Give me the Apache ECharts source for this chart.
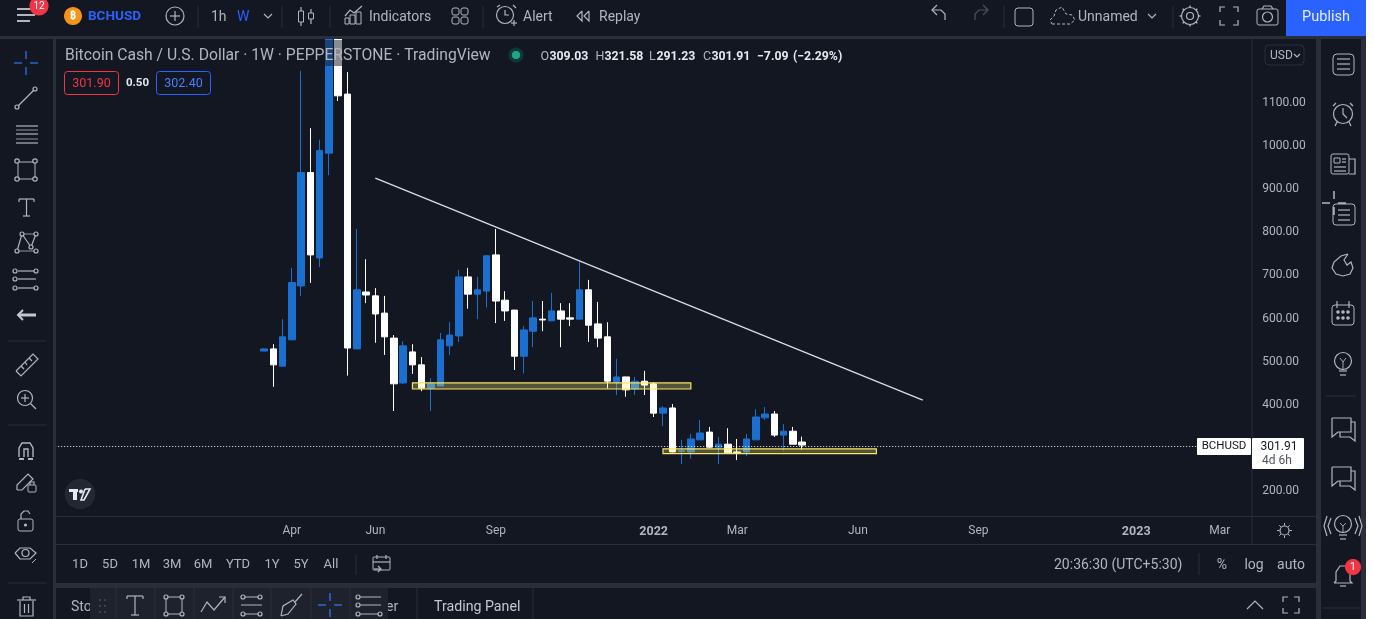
<!DOCTYPE html>
<html><head><meta charset="utf-8">
<style>html,body{margin:0;padding:0;background:#fff;overflow:hidden}#c{width:1374px;height:619px}</style>
<script src="https://cdn.jsdelivr.net/npm/echarts@6/dist/echarts.min.js"></script>
</head><body><div id="c"></div>
<script>
// ---------- data ----------
const opens = [520,525,485,546,671,934,736,979,1340,1116,525,657,648,608,550,446,518,488,434,439,532,555,692,652,659,743,638,615,508,566,594,590,613,597,594,662,583,553,448,460,432,450,444,376,388,287,286,314,332,297,304,286,286,314,365,374,325,334,309.03];
const closes= [525,488,553,679,934,743,985,1340,1112,527,662,650,606,553,444,532,488,434,444,546,557,692,652,662,741,636,613,508,569,597,592,613,594,594,662,580,550,450,460,430,450,441,376,388,286,289,316,330,297,304,284,284,316,367,374,325,334,304,301.91];
const lows  = [520,437,485,546,648,678,715,928,1100,463,525,631,539,511,381,444,467,427,381,439,511,541,618,594,621,585,590,476,468,529,566,590,529,578,594,541,529,433,418,414,418,418,367,346,285,258,270,314,295,258,283,267,276,314,360,321,289,304,291.23];
const highs = [527,536,594,713,1170,1037,1010,1500,1640,1167,803,733,666,648,557,543,536,506,457,562,587,708,713,692,740,803,659,615,578,636,636,655,631,631,729,685,634,587,502,460,460,474,448,392,397,314,328,360,344,321,341,316,328,385,390,381,351,344,321.58];
const priceTicks = [200,300,400,500,600,700,800,900,1000,1100];
const timeTicks = {'2021-04-05':'Apr','2021-06-07':'Jun','2021-09-06':'Sep','2022-01-03':'2022','2022-03-07':'Mar','2022-06-06':'Jun','2022-09-05':'Sep','2023-01-02':'2023','2023-03-06':'Mar'};
const lastPriceLevel = 299;
const leadingWeeks = 22, totalWeeks = 129;
const trendLine = [[34,921],[93,406]];
const zones = [[[38,446],[68,432]],[[65,293],[88,282]]];

const weeks = [];
for (let i=0;i<totalWeeks;i++){ weeks.push(new Date(Date.UTC(2020,9,12+7*i)).toISOString().slice(0,10)); }
const blank = Array.from({length:leadingWeeks},()=>['-','-','-','-']);
const candles = blank.concat(opens.map((o,i)=>[o,closes[i],lows[i],highs[i]]));

// ---------- screen furniture helpers ----------
const FF='Roboto, "Noto Sans", sans-serif';
const BG='#131722', GAP='#2a2e39', I='#b2b5be', TXT='#b2b5be', BLUE='#2962ff';
const G=[]; let zz=100;
const R=(x,y,w,h,fill,o={})=>G.push({type:'rect',silent:true,z:zz,shape:{x,y,width:w,height:h,r:o.r||0},style:{fill:fill||'transparent',stroke:o.s||null,lineWidth:o.w||1}});
const L=(pts,c=I,w=1.2,dash)=>G.push({type:'polyline',silent:true,z:zz,shape:{points:pts},style:{stroke:c,fill:null,lineWidth:w,lineDash:dash||null}});
const C=(x,y,r,s=I,f=null,w=1.2,dash)=>G.push({type:'circle',silent:true,z:zz,shape:{cx:x,cy:y,r},style:{stroke:s,fill:f||'transparent',lineWidth:w,lineDash:dash||null}});
const T=(t,x,y,o={})=>G.push({type:'text',silent:true,z:zz,x,y:y+1,style:{text:t,fill:o.c||TXT,font:`${o.b?'bold ':''}${o.s||14}px ${FF}`,align:o.a||'left',verticalAlign:'middle'}});
const sep=(x,y1,y2)=>L([[x,y1],[x,y2]],GAP,1);
const hsep=(x1,x2,y)=>L([[x1,y],[x2,y]],GAP,1);
const cross=(x,y,c=I)=>{L([[x-12,y],[x-4,y]],c);L([[x+4,y],[x+12,y]],c);L([[x,y-12],[x,y-4]],c);L([[x,y+4],[x,y+12]],c);};
const fsIcon=(x,y,r=9)=>{[[-1,-1],[1,-1],[-1,1],[1,1]].forEach(([a,b])=>L([[x+a*r,y+b*(r-5)],[x+a*r,y+b*r],[x+a*(r-5),y+b*r]]));};

// panels and gaps
R(0,0,1366,36,BG);
R(0,36,1366,3,GAP); R(53,39,3,580,GAP); R(1316,39,5,580,GAP); R(56,583,1260,5,GAP); R(1361,0,5,619,GAP);
R(1286,0,80,36,BLUE); R(1366,0,8,619,'#ffffff');
L([[1252,39],[1252,544]],GAP,1); hsep(56,1316,516.5); hsep(56,1316,544.5);

// veil behind the legend text
R(56,40,436,26,'rgba(19,23,34,0.5)');

// top bar
L([[17,9],[35,9]],I,2);L([[17,15],[35,15]],I,2);L([[17,21],[30,21]],I,2);
C(39,6,9,'#f23645','#f23645');T('12',39,5,{c:'#fff',s:10,a:'center'});
C(73,16,8.5,'#f7931a','#f7931a');T('₿',73,15,{c:'#fff',s:11,a:'center',b:1});
T('BCHUSD',88,15.5,{c:BLUE,s:13.5,b:1});
C(175,16,9);L([[170,16],[180,16]]);L([[175,11],[175,21]]);
sep(198,6,28);T('1h',211,16);T('W',237,16,{c:BLUE});L([[264,14],[268,18],[272,14]]);sep(282,6,28);
L([[301,7],[301,26]]);R(298.5,11,5,11,BG,{s:I});L([[311,9],[311,24]]);R(308.5,13,5,6,BG,{s:I});sep(330,6,28);
R(345,18,4,6,null,{s:I});R(350,15,5,9,null,{s:I});R(356,12,5,12,null,{s:I});L([[345,16],[350,10],[354,13],[362,6]]);
T('Indicators',369,16);
[[452,8],[461,8],[452,17],[461,17]].forEach(p=>R(p[0],p[1],7,7,null,{s:I,r:2}));sep(483,6,28);
C(505,15,8.5);L([[505,10],[505,15],[509,15]]);L([[497,7],[500,5]]);L([[513,5],[516,8]]);L([[511,23],[517,23]]);L([[514,20],[514,26]]);
T('Alert',523,16);
L([[582,11],[577,16],[582,21],[582,11]]);L([[589,11],[584,16],[589,21],[589,11]]);T('Replay',599,16);
L([[937,5],[932,10],[937,15]]);L([[932,10],[941,10],[945,14],[945,20]]);
L([[983,5],[988,10],[983,15]],'#50535e');L([[988,10],[979,10],[975,14],[975,20]],'#50535e');sep(1004,6,28);
R(1015,8,18,18,null,{s:I,r:3});
L([[1052,24],[1070,24],[1075,20],[1072,15],[1066,14],[1062,7],[1056,10],[1054,16],[1050,20],[1052,24]],I,1,[3,2]);
T('Unnamed',1078,16);L([[1148,14],[1152,18],[1156,14]]);sep(1173,6,28);
C(1190,16,3.5);C(1190,16,8.5);[[0,-1],[0,1],[1,0],[-1,0],[.7,.7],[-.7,.7],[.7,-.7],[-.7,-.7]].forEach(([a,b])=>L([[1190+a*8.5,16+b*8.5],[1190+a*10.5,16+b*10.5]],I,1.4));
fsIcon(1229,16,9);
R(1257,9,21,16,null,{s:I,r:2});C(1267.5,17,5);L([[1262,9],[1264,6],[1271,6],[1273,9]]);
T('Publish',1326,16,{c:'#e8eeff',s:14.5,a:'center'});

// legend
T('Bitcoin Cash / U.S. Dollar · 1W · PEPPERSTONE · TradingView',65,55,{s:15.7});
C(516,55,7,'#0c3a3a','#0c3a3a');C(516,55,3.5,'#1ba784','#1ba784');
[['O',540.5],['H',595.5],['L',649],['C',703]].forEach(a=>T(a[0],a[1],56,{s:12.5}));
[['309.03',549.5],['321.58',604.5],['291.23',656.5],['301.91',711.5],['−7.09',757],['(−2.29%)',793]].forEach(a=>T(a[0],a[1],56,{s:12.3,c:'#e6e8ee',b:1}));
R(64.5,71.5,54,23,BG,{s:'#f23645',r:3});T('301.90',91.5,83,{c:'#f23645',s:12.5,a:'center'});
T('0.50',137.5,82.5,{c:'#e6e8ee',s:11.5,a:'center',b:1});
R(156.5,71.5,54,23,BG,{s:BLUE,r:3});T('302.40',183.5,83,{c:'#4c7dff',s:12.5,a:'center'});
R(1265,45,39,20,BG,{s:GAP,r:4});T('USD',1270,54.5,{s:12});L([[1294,54],[1297,57],[1300,54]]);

// TV watermark
C(80,494,15,'#2a2e39','#232734',0.5);
R(69,489,9,3,'#e6e8ee');R(73,489,4,11,'#e6e8ee');C(81,491.5,1.8,'#e6e8ee','#e6e8ee',0.5);
L([[85,489],[81,500],[84,500],[90,489],[85,489]],'#e6e8ee',1.6);

// left tools
cross(26,63,'#2f7bff');
L([[18,106],[34,90]]);C(17,107,2);C(35,89,2);
[126,134,143].forEach(y=>{L([[16,y],[38,y]]);});L([[16,130],[38,130]],I,.8);L([[16,139],[38,139]],I,.8);
R(18,162,17,17,null,{s:I});[[17,161],[35,161],[17,179],[35,179]].forEach(p=>C(p[0],p[1],2.2,I,BG));
L([[19,199],[19,202]]);L([[19,199],[34,199]]);L([[34,199],[34,202]]);L([[26.5,199],[26.5,216]]);L([[23,216],[30,216]]);
L([[17,251],[22,234],[31,247],[36,234]]);L([[17,251],[36,251]],I,.8);L([[22,234],[36,234]],I,.8);[[17,251],[22,234],[31,247],[36,234],[36,251]].forEach(p=>C(p[0],p[1],2,I,BG));
[271,279,288].forEach(y=>L([[18,y],[36,y]]));[[15,271],[15,279],[15,288],[36,271],[36,288]].forEach(p=>C(p[0],p[1],2,I,BG));
L([[18,315],[36,315]],'#c4c7cf',3);L([[23,310],[18,315],[23,320]],'#c4c7cf',2);
hsep(8,46,341);
L([[16,371],[33,354],[38,359],[21,376],[16,371]]);[[21,366,24,369],[25,362,27,365],[29,358,32,361]].forEach(a=>L([[a[0],a[1]],[a[2],a[3]]]));
C(25,398,7.5);L([[30.5,403.5],[36,409]]);L([[21,398],[29,398]]);L([[25,394],[25,402]]);
hsep(8,46,425);
L([[19,457],[19,448],[22,443],[30,443],[33,448],[33,457]],I,1.4);L([[24,457],[24,449],[28,449],[28,457]],I,1.4);L([[19,459],[24,459]],I,2);L([[28,459],[33,459]],I,2);
L([[17,490],[17,485],[28,474],[33,479],[22,490],[17,490]]);R(28,485,8,7,null,{s:I,r:1});L([[30,485],[30,482],[34,482],[34,485]]);
R(18,519,15,12,null,{s:I,r:2});L([[21,519],[21,514],[24,511],[28,511],[30,514]]);C(25.5,525,1,I,I);
L([[15,553],[20,548],[30,548],[36,553],[30,559],[20,559],[15,553]]);C(25.5,553,3.5);L([[32,563],[36,559]],I,1);
hsep(8,46,583);
L([[20,601],[20,616],[33,616],[33,601]]);L([[17,600],[36,600]]);L([[23,600],[23,597],[30,597],[30,600]]);L([[24.5,604],[24.5,613]]);L([[28.5,604],[28.5,613]]);

// right tools
const X=1343;
R(X-10,54,21,21,null,{s:I,r:4});[59,64,69].forEach(y=>L([[X-6,y],[X+7,y]]));
C(X,114,9.5);L([[X,108],[X,114],[X+4,118]]);L([[X-10,106],[X-7,103]]);L([[X+7,103],[X+10,106]]);L([[X-6,122],[X-8,126]]);L([[X+6,122],[X+8,126]]);
R(X-12,154,18,20,null,{s:I,r:2});L([[X+6,159],[X+12,159],[X+12,174],[X+6,174]]);R(X-9,158,6,5,null,{s:I});[[167],[171]].forEach(y=>L([[X-9,y[0]],[X+3,y[0]]]));L([[X-1,159],[X+3,159]]);L([[X-1,162],[X+3,162]]);
R(X-10,204,22,21,null,{s:I,r:3});[210,215,220].forEach(y=>L([[X-5,y],[X+7,y]]));cross(X-9,203,'#dde');
L([[X+5,254],[X-2,256],[X-9,262],[X-11,268],[X-7,274],[X,276],[X+7,274],[X+10,268],[X+8,262],[X+4,265],[X+1,260],[X+5,254]]);
R(X-11,305,22,20,null,{s:I,r:3});L([[X-6,301],[X-6,308]]);L([[X+6,301],[X+6,308]]);[[-5,312],[0,312],[5,312],[-5,318],[0,318],[5,318]].forEach(p=>C(X+p[0],p[1],1.2,I,I));
C(X,361,8.5);L([[X-4,371],[X+4,371]]);L([[X-3,375],[X+3,375]]);L([[X-3,358],[X,362],[X+3,358]],I,.9);L([[X,362],[X,369]],I,.9);
hsep(1326,1356,396);
L([[X-11,418],[X+8,418],[X+8,432],[X-5,432],[X-11,437],[X-11,418]]);L([[X+8,422],[X+12,422],[X+12,441],[X+7,437],[X-3,437],[X-3,432]]);
L([[X-11,467],[X+8,467],[X+8,481],[X-5,481],[X-11,486],[X-11,467]]);L([[X+8,471],[X+12,471],[X+12,490],[X+7,486],[X-3,486],[X-3,481]]);
C(X,524,8.5);L([[X-4,535],[X+4,535]]);L([[X-3,539],[X+3,539]]);L([[X-3,523],[X,526],[X+3,523]],I,.9);L([[X,526],[X,533]],I,.9);
L([[X-12,518],[X-15,526],[X-12,534]]);L([[X-16,516],[X-19,526],[X-16,536]]);L([[X+12,518],[X+15,526],[X+12,534]]);L([[X+16,516],[X+19,526],[X+16,536]]);
L([[X-9,583],[X-7,581],[X-7,572],[X-3,566],[X+3,566],[X+7,572],[X+7,581],[X+9,583],[X-9,583]]);L([[X-3,586],[X+3,586]]);
C(1353,567,7.5,'#f23645','#f23645');T('1',1353,566,{c:'#fff',s:10.5,a:'center'});
hsep(1322,1360,608);

// bottom range bar
[['1D',80],['5D',110],['1M',141],['3M',172],['6M',203],['YTD',238],['1Y',272],['5Y',301],['All',331]].forEach(a=>T(a[0],a[1],564,{s:13,a:'center'}));
sep(356,555,575);
R(373,557,17,13,null,{s:I,r:1});L([[373,562],[390,562]]);L([[377,555],[377,559]]);L([[386,555],[386,559]]);L([[374,569],[381,569]]);L([[378,566],[381,569],[378,572]]);
T('20:36:30 (UTC+5:30)',1054,564,{s:14});sep(1199,553,575);
T('%',1222,564,{s:14,a:'center'});T('log',1254,564,{s:14,a:'center'});T('auto',1291,564,{s:14,a:'center'});
C(1284.5,530.5,4.5);[[0,-1],[0,1],[1,0],[-1,0],[.7,.7],[-.7,.7],[.7,-.7],[-.7,-.7]].forEach(([a,b])=>L([[1284.5+a*5,530.5+b*5],[1284.5+a*7.5,530.5+b*7.5]],I,1));

// bottom tab strip
T('Sto',71,606,{s:14});T('er',386,606,{s:14});
sep(417,588,619);T('Trading Panel',434,606,{s:14.2,c:'#c4c7cf'});sep(533,588,619);
R(90,588,298,31,'#1e222d');
[[100,600],[105,600],[100,606],[105,606],[100,612],[105,612]].forEach(p=>C(p[0],p[1],.7,'#50535e','#50535e',.5));
[[116],[155],[194],[233],[271],[311],[350]].forEach(a=>sep(a[0],588,619));
L([[127,596],[127,599]]);L([[127,596],[143,596]]);L([[143,596],[143,599]]);L([[135,596],[135,615]]);L([[131,615],[139,615]]);
R(166,597,16,17,null,{s:I});[[166,597],[182,597],[166,614],[182,614]].forEach(p=>C(p[0],p[1],2,I,'#1e222d'));
L([[201,612],[207,602],[214,610],[225,597]]);L([[219,597],[225,597],[225,603]]);
[[597],[605],[614]].forEach(a=>L([[241,a[0]],[262,a[0]]],I,1));[[243,597],[260,597],[243,614],[260,614]].forEach(p=>C(p[0],p[1],2,I,'#1e222d'));
L([[281,616],[283,606],[293,600],[296,604],[288,614],[281,616]]);L([[295,602],[302,594]]);
cross(330,605,'#2f7bff');
[[597],[605],[614]].forEach(a=>L([[360,a[0]],[381,a[0]]],I,1));[[358,597],[358,605],[358,614],[380,614]].forEach(p=>C(p[0],p[1],2,I,'#1e222d'));
L([[1247,609],[1255,601],[1263,609]]);fsIcon(1291,605,8);

// last price tags
R(1197,438,54,17,'#ffffff',{r:1});T('BCHUSD',1224,445.5,{c:'#131722',s:11.5,a:'center'});
R(1252,438,52,31,'#ffffff',{r:1});T('301.91',1279,446,{c:'#131722',s:12,a:'center'});T('4d 6h',1277,460,{c:'#50535e',s:12,a:'center'});

const chart=echarts.init(document.getElementById('c'),null,{renderer:'canvas',width:1374,height:619});
chart.setOption({
  animation:false, backgroundColor:BG,
  grid:{left:55.2,right:121.8,top:38,bottom:103},
  xAxis:{type:'category',data:weeks,boundaryGap:true,
    axisLine:{show:false},axisTick:{show:false},splitLine:{show:false},
    axisLabel:{interval:(i,v)=>v in timeTicks,hideOverlap:false,margin:9,fontFamily:FF,fontSize:12,color:TXT,
      formatter:v=>{const t=timeTicks[v]||'';return /^\d+$/.test(t)?`{y|${t}}`:t;},
      rich:{y:{fontFamily:FF,fontSize:12.5,fontWeight:'bold',color:TXT}}}},
  yAxis:{type:'value',position:'right',min:137.4,max:1246.1,scale:true,
    axisLine:{show:false},axisTick:{show:false},splitLine:{show:false},
    axisLabel:{customValues:priceTicks,margin:10,fontFamily:FF,fontSize:12,color:TXT,
      formatter:v=>`{p|${v.toFixed(2)}}`,
      rich:{p:{fontFamily:FF,fontSize:12,color:TXT,padding:[4,0,0,0]}}}},
  series:[{type:'candlestick',data:candles,barWidth:7,clip:true,
    itemStyle:{color:'#1a6fcf',color0:'#ffffff',borderColor:'#1a6fcf',borderColor0:'#ffffff',borderWidth:1},
    markLine:{silent:true,symbol:'none',animation:false,label:{show:false},z:4,
      data:[
        [{coord:trendLine[0],lineStyle:{color:'#d8dbe3',width:1.4,type:'solid'}},{coord:trendLine[1]}],
        {yAxis:lastPriceLevel,lineStyle:{color:'#f0f2f6',width:1,type:[1,2]}}
      ]},
    markArea:{silent:true,animation:false,z:3,label:{show:false},
      itemStyle:{color:'rgba(255,241,118,0.28)',borderColor:'#f5e664',borderWidth:1.2},
      data:zones.map(z=>[{coord:z[0]},{coord:z[1]}])}
  }],
  graphic:{elements:G}
});
</script></body></html>
